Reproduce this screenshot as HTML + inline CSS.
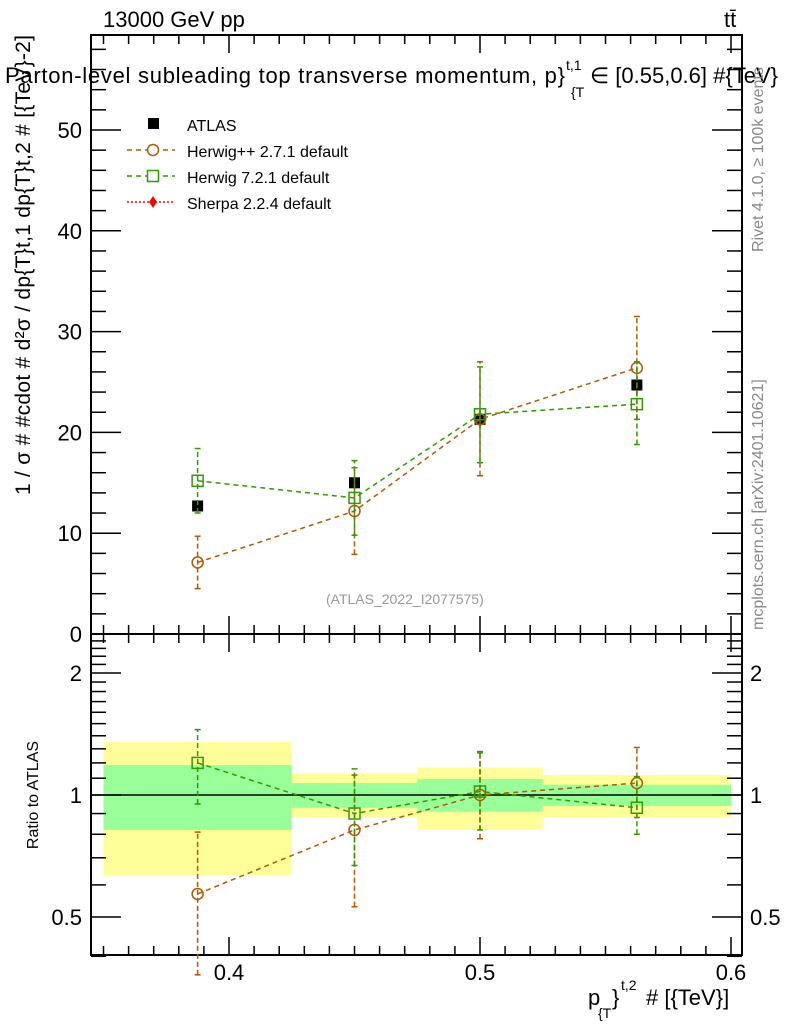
<!DOCTYPE html>
<html><head><meta charset="utf-8"><style>
body{margin:0;background:#fff}
svg{display:block;font-family:"Liberation Sans",sans-serif}
</style></head><body>
<svg id="c" width="786" height="1024" viewBox="0 0 786 1024"></svg>
<script>
const bins=[0.35,0.425,0.475,0.525,0.6];
const xc=[0.3875,0.45,0.5,0.5625];
const atlas=[12.7,15.0,21.3,24.7];
const atlasErr=[0.5,0.6,0.8,0.9];
const hpp=[7.1,12.2,21.3,26.4];
const hppLo=[4.5,7.9,15.7,21.3];
const hppHi=[9.7,16.5,27.0,31.5];
const h7=[15.2,13.5,21.8,22.8];
const h7Lo=[12.0,9.8,17.0,18.8];
const h7Hi=[18.4,17.2,26.5,27.0];
const rHpp=[0.57,0.82,1.0,1.07];
const rHppLo=[0.36,0.53,0.78,0.88];
const rHppHi=[0.81,1.12,1.28,1.31];
const rH7=[1.2,0.9,1.02,0.93];
const rH7Lo=[0.95,0.67,0.82,0.8];
const rH7Hi=[1.45,1.16,1.27,1.11];
const yelLo=[0.635,0.88,0.82,0.88];
const yelHi=[1.35,1.13,1.17,1.12];
const grnLo=[0.82,0.93,0.91,0.94];
const grnHi=[1.186,1.07,1.095,1.06];
const yTicks=[0,10,20,30,40,50];
const xTicks=[0.4,0.5,0.6];
const rTicks=[0.5,1,2];

const L=91,R=742,T=35,MB=634,RB=955;
const X=v=>229+(v-0.4)*2510;
const Y=v=>634-v*10.08;
const RY=v=>795-Math.log10(v)*405.3;
const svg=document.getElementById('c');
const NS='http://www.w3.org/2000/svg';
function el(t,a,p){const e=document.createElementNS(NS,t);for(const k in a)e.setAttribute(k,a[k]);(p||svg).appendChild(e);return e;}
function tx(s,a){const e=el('text',a);e.textContent=s;return e;}

// ratio bands
for(let i=0;i<4;i++){
 const r=el('rect',{x:X(bins[i]),y:RY(yelHi[i]),width:X(bins[i+1])-X(bins[i]),height:RY(yelLo[i])-RY(yelHi[i]),fill:'#ffff99'});
 
 const g=el('rect',{x:X(bins[i]),y:RY(grnHi[i]),width:X(bins[i+1])-X(bins[i]),height:RY(grnLo[i])-RY(grnHi[i]),fill:'#99ff99'});
 
}
el('line',{x1:L,x2:R,y1:RY(1),y2:RY(1),stroke:'#000','stroke-width':1.5});

// frames
el('rect',{x:L,y:T,width:R-L,height:MB-T,fill:'none',stroke:'#000','stroke-width':2});
el('rect',{x:L,y:MB,width:R-L,height:RB-MB,fill:'none',stroke:'#000','stroke-width':2});

// x ticks
for(let v=0.35;v<=0.6051;v+=0.01){
 const major=Math.abs(v*10-Math.round(v*10))<1e-6;const len=major?18:9;
 for(const [y0,d] of [[T,1],[MB,-1],[MB,1],[RB,-1]]) el('line',{x1:X(v),x2:X(v),y1:y0,y2:y0+d*len,stroke:'#000','stroke-width':1.5});
}
xTicks.forEach(v=>{const t=tx(v.toFixed(1),{x:X(v),y:980,'font-size':22,'text-anchor':'middle'});});
// main y ticks
for(let v=0;v<=59;v+=2){const len=v%10===0?30:15;
 el('line',{x1:L,x2:L+len,y1:Y(v),y2:Y(v),stroke:'#000','stroke-width':1.5});
 el('line',{x1:R,x2:R-len,y1:Y(v),y2:Y(v),stroke:'#000','stroke-width':1.5});}
yTicks.forEach(v=>{const t=tx(String(v),{x:82,y:Y(v)+8,'font-size':22,'text-anchor':'end'});});
// ratio ticks
const rminor=[0.4,0.5,0.6,0.7,0.8,0.9,1,1.1,1.2,1.3,1.4,1.5,1.6,1.7,1.8,1.9,2,2.1,2.2,2.3,2.4,2.5];
rminor.forEach(v=>{const len=rTicks.includes(v)?30:15;
 el('line',{x1:L,x2:L+len,y1:RY(v),y2:RY(v),stroke:'#000','stroke-width':1.5});
 el('line',{x1:R,x2:R-len,y1:RY(v),y2:RY(v),stroke:'#000','stroke-width':1.5});});
rTicks.forEach(v=>{const s=v===0.5?'0.5':String(v);
 const a=tx(s,{x:82,y:RY(v)+8,'font-size':22,'text-anchor':'end'});
 const b=tx(s,{x:750,y:RY(v)+8,'font-size':22});});

function series(vals,lo,hi,yf,color,shape,name){
 const pts=xc.map((x,i)=>X(x)+','+yf(vals[i])).join(' ');
 const pl=el('polyline',{points:pts,fill:'none',stroke:color,'stroke-width':1.5,'stroke-dasharray':'5,4'});
 
 xc.forEach((x,i)=>{const cx=X(x);
  el('line',{x1:cx,x2:cx,y1:yf(lo[i]),y2:yf(hi[i]),stroke:color,'stroke-width':1.5,'stroke-dasharray':'5,3'});
  el('line',{x1:cx-3,x2:cx+3,y1:yf(lo[i]),y2:yf(lo[i]),stroke:color,'stroke-width':1.5});
  el('line',{x1:cx-3,x2:cx+3,y1:yf(hi[i]),y2:yf(hi[i]),stroke:color,'stroke-width':1.5});
  let m;
  if(shape==='c') m=el('circle',{cx:cx,cy:yf(vals[i]),r:5.5,fill:'none',stroke:color,'stroke-width':1.5});
  else m=el('rect',{x:cx-5.5,y:yf(vals[i])-5.5,width:11,height:11,fill:'none',stroke:color,'stroke-width':1.5});
  
 });
}
// ATLAS data
xc.forEach((x,i)=>{const cx=X(x);
 el('line',{x1:cx,x2:cx,y1:Y(atlas[i]-atlasErr[i]),y2:Y(atlas[i]+atlasErr[i]),stroke:'#000','stroke-width':1.5});
 const m=el('rect',{x:cx-5.5,y:Y(atlas[i])-5.5,width:11,height:11,fill:'#000'});
 });
series(hpp,hppLo,hppHi,Y,'#b35900','c','herwigpp');
series(h7,h7Lo,h7Hi,Y,'#339900','s','herwig7');
series(rHpp,rHppLo,rHppHi,RY,'#b35900','c','ratio-herwigpp');
series(rH7,rH7Lo,rH7Hi,RY,'#339900','s','ratio-herwig7');

// legend
const lg=el('g',{});
el('rect',{x:148,y:118,width:11,height:11,fill:'#000'},lg);
const lab=[['ATLAS',124],['Herwig++ 2.7.1 default',150],['Herwig 7.2.1 default',176],['Sherpa 2.2.4 default',202]];
lab.forEach(([s,y])=>{const t=tx(s,{x:187,y:y+7,'font-size':16});lg.appendChild(t);});
el('line',{x1:127,x2:175,y1:150,y2:150,stroke:'#b35900','stroke-width':1.5,'stroke-dasharray':'5,4'},lg);
el('circle',{cx:153,cy:150,r:5.5,fill:'#fff',stroke:'#b35900','stroke-width':1.5},lg);
el('line',{x1:127,x2:175,y1:176,y2:176,stroke:'#339900','stroke-width':1.5,'stroke-dasharray':'5,4'},lg);
el('rect',{x:147.5,y:170.5,width:11,height:11,fill:'#fff',stroke:'#339900','stroke-width':1.5},lg);
el('line',{x1:127,x2:175,y1:202,y2:202,stroke:'#ff0000','stroke-width':1.5,'stroke-dasharray':'2,2'},lg);
el('polygon',{points:'153,196 157,202 153,208 149,202',fill:'#ff0000'},lg);

// texts
function T2(s,a,name){const t=tx(s,a);return t;}
T2('13000 GeV pp',{x:103,y:27,'font-size':22},'energy-label');
T2('tt̄',{x:724,y:27,'font-size':22},'process-label');
T2('Parton-level subleading top transverse momentum, p}',{x:5,y:83,'font-size':22,textLength:560},'plot-title');
T2('t,1',{x:566,y:70,'font-size':14},'title-sup');
T2('{T',{x:571,y:97,'font-size':14},'title-sub');
T2('∈ [0.55,0.6] #{TeV}',{x:590,y:83,'font-size':22},'title-end');
T2('(ATLAS_2022_I2077575)',{x:326,y:604,'font-size':14,fill:'#999'},'analysis-id');
T2('Ratio to ATLAS',{x:0,y:0,'font-size':16,transform:'translate(38,795) rotate(-90)','text-anchor':'middle'},'ratio-y-title');
T2('1 / σ # #cdot # d²σ / dp{T}t,1 dp{T}t,2 # [{TeV}-2]',{x:0,y:0,'font-size':21,transform:'translate(30,495) rotate(-90)',textLength:460},'y-axis-title');
T2('Rivet 4.1.0, ≥ 100k events',{x:0,y:0,'font-size':16,fill:'#888',transform:'translate(763,252) rotate(-90)'},'rivet-label');
T2('mcplots.cern.ch [arXiv:2401.10621]',{x:0,y:0,'font-size':16,fill:'#888',transform:'translate(763,630) rotate(-90)'},'mcplots-label');
T2('p',{x:588,y:1005,'font-size':22},'x-axis-title');
T2('{T',{x:598,y:1018,'font-size':14},'x-title-sub');
T2('}',{x:612,y:1005,'font-size':22},'x-title-brace');
T2('t,2',{x:621,y:990,'font-size':14},'x-title-sup');
T2('# [{TeV}]',{x:646,y:1005,'font-size':22},'x-title-unit');
</script>
</body></html>
